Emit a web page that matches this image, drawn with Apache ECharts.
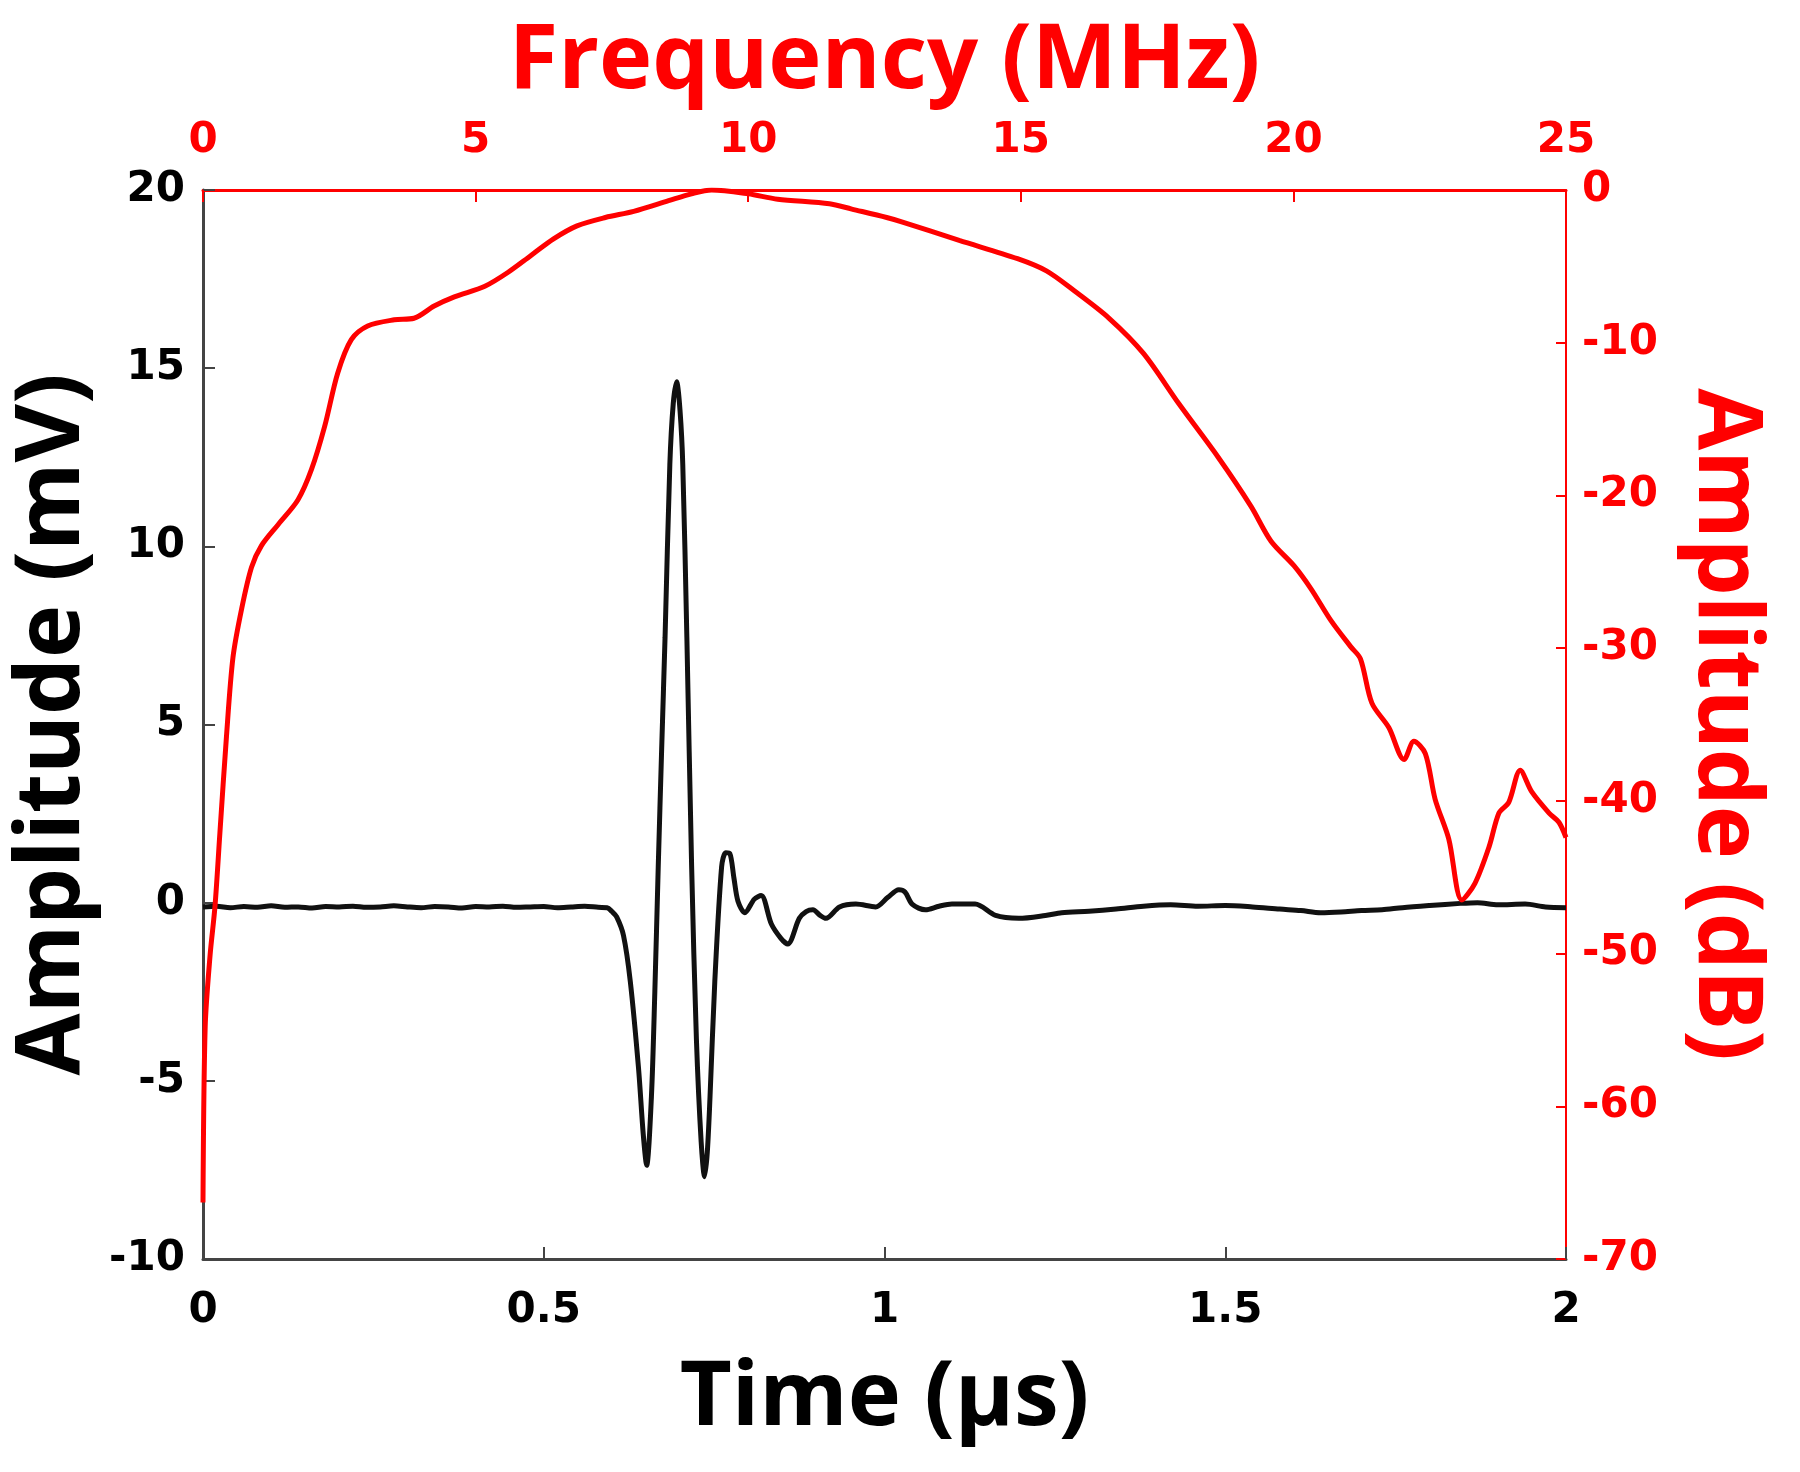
<!DOCTYPE html>
<html>
<head>
<meta charset="utf-8">
<script src="https://cdn.jsdelivr.net/npm/echarts@6/dist/echarts.min.js"></script>
<style>
  html, body { margin: 0; padding: 0; background: #fff; }
  #chart { width: 1800px; height: 1472px; }
</style>
</head>
<body>
<div id="chart"></div>
<script>
// time trace (black): time in µs, amplitude in mV
const timeUs = [
  0, 0.02, 0.04, 0.06, 0.08, 0.10, 0.12, 0.14, 0.16, 0.18, 0.20, 0.22, 0.24, 0.26, 0.28,
  0.30, 0.32, 0.34, 0.36, 0.38, 0.40, 0.42, 0.44, 0.46, 0.48, 0.50, 0.52, 0.54, 0.56, 0.58,
  0.593, 0.600, 0.607, 0.617, 0.627, 0.639, 0.646, 0.651, 0.658, 0.663, 0.668, 0.673, 0.678,
  0.685, 0.690, 0.695, 0.700, 0.704, 0.710, 0.717, 0.724, 0.731, 0.736, 0.740, 0.744, 0.751,
  0.761, 0.767, 0.773, 0.779, 0.785, 0.795, 0.809, 0.819, 0.834, 0.848, 0.858, 0.875, 0.885,
  0.895, 0.905, 0.914, 0.934, 0.958, 0.987, 1.005, 1.021, 1.030, 1.041, 1.060, 1.080, 1.099,
  1.133, 1.163, 1.197, 1.236, 1.260, 1.30, 1.34, 1.38, 1.42, 1.46, 1.50, 1.54, 1.58, 1.611,
  1.64, 1.67, 1.70, 1.73, 1.76, 1.80, 1.845, 1.87, 1.90, 1.94, 1.97, 2.00
];
const amplitudeMv = [
  -0.12, -0.10, -0.14, -0.11, -0.13, -0.09, -0.13, -0.12, -0.15, -0.11, -0.12, -0.10, -0.13, -0.12, -0.09,
  -0.12, -0.14, -0.11, -0.12, -0.15, -0.11, -0.12, -0.10, -0.13, -0.12, -0.11, -0.14, -0.12, -0.10, -0.13,
  -0.14, -0.25, -0.40, -0.92, -2.21, -4.63, -6.5, -7.37, -5.44, -2.5, 1.01, 4.3, 7.45,
  12.29, 14.0, 14.62, 13.8, 12.29, 7.45, 1.01, -3.83, -6.72, -7.69, -7.0, -5.44, -2.21,
  1.01, 1.4, 1.38, 0.7, 0.04, -0.28, 0.1, 0.2, -0.6, -1.0, -1.16, -0.44, -0.25,
  -0.2, -0.35, -0.44, -0.12, -0.04, -0.12, 0.15, 0.36, 0.3, -0.05, -0.2, -0.1, -0.04,
  -0.04, -0.36, -0.44, -0.36, -0.28, -0.24, -0.18, -0.10, -0.06, -0.10, -0.08, -0.12, -0.18, -0.22,
  -0.28, -0.26, -0.22, -0.20, -0.14, -0.08, -0.02, 0.0, -0.06, -0.04, -0.12, -0.14
];

// spectrum (red): frequency in MHz, amplitude in dB
const freqMhz = [
  0, 0.04, 0.13, 0.22, 0.31, 0.43, 0.55, 0.71, 0.89, 1.07, 1.38, 1.74, 1.99, 2.23, 2.47,
  2.72, 3.02, 3.51, 3.87, 4.24, 4.61, 5.17, 5.59, 6.01, 6.43, 6.86, 7.38, 7.90, 8.54, 8.96,
  9.33, 10.0, 10.54, 11.49, 11.9, 12.54, 12.83, 13.87, 14.94, 15.47, 15.98, 16.62, 17.25,
  17.9, 18.62, 19.22, 19.59, 20.01, 20.32, 20.69, 21.05, 21.23, 21.44, 21.75, 22.03, 22.21,
  22.42, 22.6, 22.85, 23.09, 23.33, 23.59, 23.77, 23.95, 24.16, 24.37, 24.69, 24.87, 25.0
];
const amplitudeDb = [
  -66.3, -54.8, -50.1, -46.9, -42.1, -35.8, -30.6, -27.4, -24.7, -23.3, -21.9, -20.3, -18.3, -15.5, -12.0,
  -9.8, -8.9, -8.5, -8.4, -7.6, -7.0, -6.3, -5.4, -4.3, -3.2, -2.35, -1.8, -1.4, -0.7, -0.25,
  0, -0.25, -0.6, -0.9, -1.25, -1.8, -2.1, -3.3, -4.5, -5.3, -6.6, -8.4, -10.7,
  -14.0, -17.5, -20.7, -23.0, -24.6, -26.1, -28.2, -29.9, -30.7, -33.6, -35.2, -37.3, -36.1,
  -36.9, -39.9, -42.5, -46.5, -45.4, -43.0, -40.8, -40.1, -38.0, -39.4, -40.8, -41.4, -42.4
];

const RED = '#ff0000';
const labelFont = { fontFamily: 'DejaVu Sans', fontWeight: 'bold', fontSize: 42 };
const titleFont = { fontFamily: 'Open Sans', fontWeight: 'bold', fontSize: 90 };

const chart = echarts.init(document.getElementById('chart'));

const option = {
  animation: false,
  grid: { left: 198, right: 234, top: 190, bottom: 213 },
  xAxis: [
    {
      type: 'value', position: 'bottom', min: 0, max: 2, interval: 0.5,
      name: 'Time (µs)', nameLocation: 'middle', nameGap: 95,
      nameTextStyle: { ...titleFont, color: '#000' },
      axisLine: { onZero: false, lineStyle: { color: '#444', width: 3 } },
      axisTick: { inside: true, length: 12, lineStyle: { color: '#444', width: 2 } },
      axisLabel: { ...labelFont, color: '#000', margin: 31 },
      splitLine: { show: false }
    },
    {
      type: 'value', position: 'top', min: 0, max: 25, interval: 5,
      name: 'Frequency (MHz)', nameLocation: 'middle', nameGap: 83,
      nameTextStyle: { ...titleFont, color: RED },
      axisLine: { onZero: false, lineStyle: { color: RED, width: 3 } },
      axisTick: { inside: true, length: 12, lineStyle: { color: RED, width: 2 } },
      axisLabel: { ...labelFont, color: RED, margin: 28 },
      splitLine: { show: false }
    }
  ],
  yAxis: [
    {
      type: 'value', position: 'left', min: -10, max: 20, interval: 5,
      name: 'Amplitude (mV)', nameLocation: 'middle', nameGap: 105, nameRotate: 90,
      nameTextStyle: { ...titleFont, color: '#000' },
      axisLine: { show: true, onZero: false, lineStyle: { color: '#444', width: 3 } },
      axisTick: { show: true, inside: true, length: 12, lineStyle: { color: '#444', width: 2 } },
      axisLabel: { ...labelFont, color: '#000', margin: 18 },
      splitLine: { show: false }
    },
    {
      type: 'value', position: 'right', min: -70, max: 0, interval: 10,
      name: 'Amplitude (dB)', nameLocation: 'middle', nameGap: 114, nameRotate: -90,
      nameTextStyle: { ...titleFont, color: RED },
      axisLine: { show: true, onZero: false, lineStyle: { color: RED, width: 2 } },
      axisTick: { show: true, inside: true, length: 10, lineStyle: { color: RED, width: 2 } },
      axisLabel: { ...labelFont, color: RED, margin: 16 },
      splitLine: { show: false }
    }
  ],
  series: [
    {
      type: 'line', name: 'time', xAxisIndex: 0, yAxisIndex: 0,
      data: timeUs.map((t, i) => [t, amplitudeMv[i]]),
      showSymbol: false, smooth: 0.3,
      lineStyle: { color: '#111', width: 5 }
    },
    {
      type: 'line', name: 'spectrum', xAxisIndex: 1, yAxisIndex: 1,
      data: freqMhz.map((f, i) => [f, amplitudeDb[i]]),
      showSymbol: false, smooth: 0.3,
      lineStyle: { color: RED, width: 5 }
    }
  ]
};

chart.setOption(option);
</script>
</body>
</html>
